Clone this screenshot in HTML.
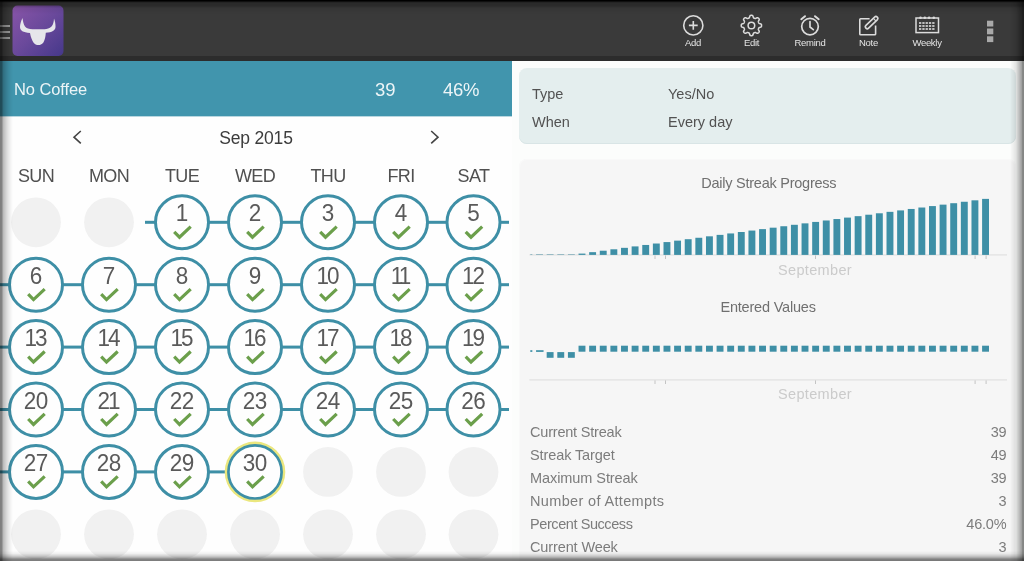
<!DOCTYPE html>
<html><head><meta charset="utf-8"><title>No Coffee</title>
<style>
html,body{margin:0;padding:0;}
body{width:1024px;height:561px;overflow:hidden;position:relative;background:#fefefe;font-family:"Liberation Sans",sans-serif;}
.abs{position:absolute;}
.topbar{left:0;top:0;width:1024px;height:56px;background:#3a3a3a;}
.topshadow{left:0;top:56px;width:1024px;height:5px;background:#2c2c2c;}
.tealbar{left:0;top:61px;width:512px;height:55px;background:#4195ad;color:#fff;}
.lbl{position:absolute;color:#e4e4e4;font-size:9.5px;text-align:center;width:60px;top:37px;line-height:12px;letter-spacing:-0.3px;}
.wd{position:absolute;top:164px;width:80px;text-align:center;font-size:18px;color:#505050;line-height:24px;letter-spacing:-0.6px;}
.num{position:absolute;width:60px;text-align:center;font-size:22.5px;color:#5a5a5a;line-height:24px;letter-spacing:-0.5px;transform:scaleY(1.06);transform-origin:50% 100%;}
.card1{left:519px;top:68px;width:497px;height:76px;background:#e4eeee;border-radius:8px;box-shadow:inset 0 -1px 0 #d9e5e6;}
.card2{left:519px;top:159px;width:497px;height:420px;background:#f6f6f6;border-radius:8px;box-shadow:inset 0 0 0 1px #f9f9f9;}
.t14{position:absolute;font-size:14.5px;color:#525252;line-height:18px;white-space:nowrap;}
.st{position:absolute;font-size:14.5px;color:#7c7c7c;line-height:18px;white-space:nowrap;letter-spacing:-0.2px;}
</style></head><body><div id="wrap" style="position:absolute;left:0;top:0;width:1024px;height:561px;overflow:hidden;will-change:transform">

<div class="abs topbar"></div><div class="abs topshadow"></div>
<div class="abs" style="left:0;top:24.5px;width:10px;height:2.5px;background:#9a9a9a"></div>
<div class="abs" style="left:0;top:30.5px;width:10px;height:2.5px;background:#9a9a9a"></div>
<div class="abs" style="left:0;top:36.5px;width:10px;height:2.5px;background:#9a9a9a"></div>
<svg class="abs" style="left:12px;top:5px" width="52" height="52" viewBox="0 0 52 52">
<defs><linearGradient id="lg" x1="0" y1="0" x2="1" y2="1"><stop offset="0" stop-color="#8955a8"/><stop offset="0.5" stop-color="#6a499b"/><stop offset="1" stop-color="#45388a"/></linearGradient></defs>
<rect x="0.5" y="0.5" width="51" height="50.5" rx="5" fill="url(#lg)"/>
<path d="M10.5 13 C9 16 8 19.5 8 22 C8 25.5 11 27.5 18 28 C18.7 32 20.1 35.6 21.8 37.9 C23.3 39.6 25 40 26.5 40 C28 40 29.8 39.5 31.4 37.4 C33 34.8 33.5 31.8 33.8 27.8 C40 27.3 43.4 25.5 43.5 22 C43.6 19 43 16 42 13.5 C41.8 17 41.2 19.5 39.5 21.5 C37.5 23.5 35 24.2 32.5 24.2 L20.5 24.2 C17 24.2 14.5 23.3 13 21.5 C11.5 19.5 11 16.5 10.5 13 Z" fill="#e6e6ea"/>
</svg>
<svg class="abs" style="left:680px;top:12px" width="28" height="28" viewBox="0 0 28 28" fill="none" stroke="#dcdcdc" stroke-width="1.6">
<circle cx="13.3" cy="13.4" r="9.6"/><path d="M13.3 9.0V17.8M8.9 13.4H17.7"/></svg>
<div class="lbl" style="left:663px">Add</div>
<svg class="abs" style="left:737px;top:11px" width="30" height="30" viewBox="0 0 30 30" fill="none" stroke="#dcdcdc" stroke-width="1.5" stroke-linejoin="round">
<path d="M14.40 4.35 L14.80 4.36 L15.19 4.42 L15.58 4.56 L15.92 4.93 L16.15 5.70 L16.33 6.47 L16.56 6.86 L16.82 7.05 L17.10 7.18 L17.38 7.29 L17.67 7.41 L17.96 7.52 L18.28 7.57 L18.72 7.45 L19.39 7.04 L20.09 6.66 L20.60 6.64 L20.97 6.81 L21.29 7.05 L21.58 7.32 L21.85 7.61 L22.09 7.93 L22.26 8.30 L22.24 8.81 L21.86 9.51 L21.45 10.18 L21.33 10.62 L21.38 10.94 L21.49 11.23 L21.61 11.52 L21.72 11.80 L21.85 12.08 L22.04 12.34 L22.43 12.57 L23.20 12.75 L23.97 12.98 L24.34 13.32 L24.48 13.71 L24.54 14.10 L24.55 14.50 L24.54 14.90 L24.48 15.29 L24.34 15.68 L23.97 16.02 L23.20 16.25 L22.43 16.43 L22.04 16.66 L21.85 16.92 L21.72 17.20 L21.61 17.48 L21.49 17.77 L21.38 18.06 L21.33 18.38 L21.45 18.82 L21.86 19.49 L22.24 20.19 L22.26 20.70 L22.09 21.07 L21.85 21.39 L21.58 21.68 L21.29 21.95 L20.97 22.19 L20.60 22.36 L20.09 22.34 L19.39 21.96 L18.72 21.55 L18.28 21.43 L17.96 21.48 L17.67 21.59 L17.38 21.71 L17.10 21.82 L16.82 21.95 L16.56 22.14 L16.33 22.53 L16.15 23.30 L15.92 24.07 L15.58 24.44 L15.19 24.58 L14.80 24.64 L14.40 24.65 L14.00 24.64 L13.61 24.58 L13.22 24.44 L12.88 24.07 L12.65 23.30 L12.47 22.53 L12.24 22.14 L11.98 21.95 L11.70 21.82 L11.42 21.71 L11.13 21.59 L10.84 21.48 L10.52 21.43 L10.08 21.55 L9.41 21.96 L8.71 22.34 L8.20 22.36 L7.83 22.19 L7.51 21.95 L7.22 21.68 L6.95 21.39 L6.71 21.07 L6.54 20.70 L6.56 20.19 L6.94 19.49 L7.35 18.82 L7.47 18.38 L7.42 18.06 L7.31 17.77 L7.19 17.48 L7.08 17.20 L6.95 16.92 L6.76 16.66 L6.37 16.43 L5.60 16.25 L4.83 16.02 L4.46 15.68 L4.32 15.29 L4.26 14.90 L4.25 14.50 L4.26 14.10 L4.32 13.71 L4.46 13.32 L4.83 12.98 L5.60 12.75 L6.37 12.57 L6.76 12.34 L6.95 12.08 L7.08 11.80 L7.19 11.52 L7.31 11.23 L7.42 10.94 L7.47 10.62 L7.35 10.18 L6.94 9.51 L6.56 8.81 L6.54 8.30 L6.71 7.93 L6.95 7.61 L7.22 7.32 L7.51 7.05 L7.83 6.81 L8.20 6.64 L8.71 6.66 L9.41 7.04 L10.08 7.45 L10.52 7.57 L10.84 7.52 L11.13 7.41 L11.42 7.29 L11.70 7.18 L11.98 7.05 L12.24 6.86 L12.47 6.47 L12.65 5.70 L12.88 4.93 L13.22 4.56 L13.61 4.42 L14.00 4.36Z"/><circle cx="14.4" cy="14.5" r="3.3"/></svg>
<div class="lbl" style="left:721.5px">Edit</div>
<svg class="abs" style="left:795px;top:11px" width="30" height="30" viewBox="0 0 30 30" fill="none" stroke="#dcdcdc" stroke-width="1.7" stroke-linecap="round">
<circle cx="15" cy="15.6" r="8.3"/><path d="M15 10.5V16L18.3 18.6"/><path d="M6.3 8.2L10.0 5.2M23.7 8.2L20.0 5.2" stroke-width="2"/></svg>
<div class="lbl" style="left:780px">Remind</div>
<svg class="abs" style="left:855px;top:11px" width="30" height="30" viewBox="0 0 30 30" fill="none" stroke="#dcdcdc" stroke-width="1.6" stroke-linejoin="round">
<path d="M14.6 7.7H5.6Q4.8 7.7 4.8 8.5V23Q4.8 23.8 5.6 23.8H19.8Q20.6 23.8 20.6 23V14.4"/><g transform="translate(16.3 11.9) rotate(-44)"><rect x="-7.5" y="-1.9" width="15.8" height="3.8" rx="1.9" fill="#3a3a3a"/><path d="M4.6 -1.75V1.75" stroke-width="1.1"/></g></svg>
<div class="lbl" style="left:838.5px">Note</div>
<svg class="abs" style="left:912px;top:12px" width="32" height="26" viewBox="0 0 32 26" fill="none" stroke="#dcdcdc" stroke-width="1.5"><rect x="4" y="6" width="22.5" height="14.6"/><circle cx="8.5" cy="5.7" r="1.3" fill="#dcdcdc" stroke="none"/><circle cx="12.8" cy="5.7" r="1.3" fill="#dcdcdc" stroke="none"/><circle cx="17.1" cy="5.7" r="1.3" fill="#dcdcdc" stroke="none"/><circle cx="21.8" cy="5.7" r="1.3" fill="#dcdcdc" stroke="none"/><rect x="7" y="10" width="2.3" height="2" fill="#bdbdbd" stroke="none"/><rect x="10.3" y="10" width="2.3" height="2" fill="#bdbdbd" stroke="none"/><rect x="13.6" y="10" width="2.3" height="2" fill="#bdbdbd" stroke="none"/><rect x="16.9" y="10" width="2.3" height="2" fill="#bdbdbd" stroke="none"/><rect x="20.2" y="10" width="2.3" height="2" fill="#bdbdbd" stroke="none"/><rect x="7" y="13" width="2.3" height="2" fill="#bdbdbd" stroke="none"/><rect x="10.3" y="13" width="2.3" height="2" fill="#bdbdbd" stroke="none"/><rect x="13.6" y="13" width="2.3" height="2" fill="#bdbdbd" stroke="none"/><rect x="16.9" y="13" width="2.3" height="2" fill="#bdbdbd" stroke="none"/><rect x="20.2" y="13" width="2.3" height="2" fill="#bdbdbd" stroke="none"/><rect x="7" y="16" width="2.3" height="2" fill="#bdbdbd" stroke="none"/><rect x="10.3" y="16" width="2.3" height="2" fill="#bdbdbd" stroke="none"/><rect x="13.6" y="16" width="2.3" height="2" fill="#bdbdbd" stroke="none"/><rect x="16.9" y="16" width="2.3" height="2" fill="#bdbdbd" stroke="none"/><rect x="20.2" y="16" width="2.3" height="2" fill="#bdbdbd" stroke="none"/></svg>
<div class="lbl" style="left:897px">Weekly</div>
<svg class="abs" style="left:980px;top:16px" width="20" height="30" viewBox="980 16 20 30"><rect x="987" y="20.7" width="6.3" height="5.8" fill="#a9a9a9"/><rect x="987" y="28.5" width="6.3" height="5.8" fill="#a9a9a9"/><rect x="987" y="36.3" width="6.3" height="5.8" fill="#a9a9a9"/></svg>
<div class="abs tealbar"></div>
<div class="abs" style="left:14px;top:78.4px;font-size:16.5px;color:rgba(255,255,255,.9);line-height:22px;letter-spacing:-0.1px">No Coffee</div>
<div class="abs" style="left:375px;top:79px;font-size:18.5px;color:rgba(255,255,255,.9);line-height:22px">39</div>
<div class="abs" style="left:443px;top:79px;font-size:18.5px;color:rgba(255,255,255,.9);line-height:22px;letter-spacing:-0.3px">46%</div>
<div class="abs" style="left:0;top:116px;width:512px;height:1px;background:#b9d7e0"></div>
<svg class="abs" style="left:70px;top:127.5px" width="16" height="18" viewBox="0 0 16 18" fill="none" stroke="#444" stroke-width="1.6"><path d="M10.8 3L4 9.2L10.8 15.4"/></svg>
<svg class="abs" style="left:426px;top:127.5px" width="16" height="18" viewBox="0 0 16 18" fill="none" stroke="#444" stroke-width="1.6"><path d="M5.2 3L12 9.2L5.2 15.4"/></svg>
<div class="abs" style="left:156px;top:125.8px;width:200px;text-align:center;font-size:17.5px;color:#3c3c3c;line-height:24px;letter-spacing:-0.2px">Sep 2015</div>
<div class="wd" style="left:-4px">SUN</div>
<div class="wd" style="left:69px">MON</div>
<div class="wd" style="left:142px">TUE</div>
<div class="wd" style="left:215px">WED</div>
<div class="wd" style="left:288px">THU</div>
<div class="wd" style="left:361px">FRI</div>
<div class="wd" style="left:433.5px">SAT</div>
<svg class="abs" style="left:0;top:0" width="512" height="561" viewBox="0 0 512 561"><circle cx="36" cy="222.3" r="24.9" fill="#f1f1f1"/><circle cx="109" cy="222.3" r="24.9" fill="#f1f1f1"/><circle cx="328" cy="471.9" r="24.9" fill="#f1f1f1"/><circle cx="401" cy="471.9" r="24.9" fill="#f1f1f1"/><circle cx="473.5" cy="471.9" r="24.9" fill="#f1f1f1"/><circle cx="36" cy="534.3" r="24.9" fill="#f1f1f1"/><circle cx="109" cy="534.3" r="24.9" fill="#f1f1f1"/><circle cx="182" cy="534.3" r="24.9" fill="#f1f1f1"/><circle cx="255" cy="534.3" r="24.9" fill="#f1f1f1"/><circle cx="328" cy="534.3" r="24.9" fill="#f1f1f1"/><circle cx="401" cy="534.3" r="24.9" fill="#f1f1f1"/><circle cx="473.5" cy="534.3" r="24.9" fill="#f1f1f1"/><rect x="145" y="220.80" width="364" height="3" fill="#3e8fa6"/><rect x="0" y="283.20" width="509" height="3" fill="#3e8fa6"/><rect x="0" y="345.60" width="509" height="3" fill="#3e8fa6"/><rect x="0" y="408.00" width="509" height="3" fill="#3e8fa6"/><rect x="0" y="470.40" width="255" height="3" fill="#3e8fa6"/><circle cx="182" cy="222.3" r="26.5" fill="#fefefe" stroke="#3e8fa6" stroke-width="3"/><path d="M174.20 231.80L179.50 237.20L190.70 226.70" fill="none" stroke="#6b9f4b" stroke-width="3.2"/><circle cx="255" cy="222.3" r="26.5" fill="#fefefe" stroke="#3e8fa6" stroke-width="3"/><path d="M247.20 231.80L252.50 237.20L263.70 226.70" fill="none" stroke="#6b9f4b" stroke-width="3.2"/><circle cx="328" cy="222.3" r="26.5" fill="#fefefe" stroke="#3e8fa6" stroke-width="3"/><path d="M320.20 231.80L325.50 237.20L336.70 226.70" fill="none" stroke="#6b9f4b" stroke-width="3.2"/><circle cx="401" cy="222.3" r="26.5" fill="#fefefe" stroke="#3e8fa6" stroke-width="3"/><path d="M393.20 231.80L398.50 237.20L409.70 226.70" fill="none" stroke="#6b9f4b" stroke-width="3.2"/><circle cx="473.5" cy="222.3" r="26.5" fill="#fefefe" stroke="#3e8fa6" stroke-width="3"/><path d="M465.70 231.80L471.00 237.20L482.20 226.70" fill="none" stroke="#6b9f4b" stroke-width="3.2"/><circle cx="36" cy="284.7" r="26.5" fill="#fefefe" stroke="#3e8fa6" stroke-width="3"/><path d="M28.20 294.20L33.50 299.60L44.70 289.10" fill="none" stroke="#6b9f4b" stroke-width="3.2"/><circle cx="109" cy="284.7" r="26.5" fill="#fefefe" stroke="#3e8fa6" stroke-width="3"/><path d="M101.20 294.20L106.50 299.60L117.70 289.10" fill="none" stroke="#6b9f4b" stroke-width="3.2"/><circle cx="182" cy="284.7" r="26.5" fill="#fefefe" stroke="#3e8fa6" stroke-width="3"/><path d="M174.20 294.20L179.50 299.60L190.70 289.10" fill="none" stroke="#6b9f4b" stroke-width="3.2"/><circle cx="255" cy="284.7" r="26.5" fill="#fefefe" stroke="#3e8fa6" stroke-width="3"/><path d="M247.20 294.20L252.50 299.60L263.70 289.10" fill="none" stroke="#6b9f4b" stroke-width="3.2"/><circle cx="328" cy="284.7" r="26.5" fill="#fefefe" stroke="#3e8fa6" stroke-width="3"/><path d="M320.20 294.20L325.50 299.60L336.70 289.10" fill="none" stroke="#6b9f4b" stroke-width="3.2"/><circle cx="401" cy="284.7" r="26.5" fill="#fefefe" stroke="#3e8fa6" stroke-width="3"/><path d="M393.20 294.20L398.50 299.60L409.70 289.10" fill="none" stroke="#6b9f4b" stroke-width="3.2"/><circle cx="473.5" cy="284.7" r="26.5" fill="#fefefe" stroke="#3e8fa6" stroke-width="3"/><path d="M465.70 294.20L471.00 299.60L482.20 289.10" fill="none" stroke="#6b9f4b" stroke-width="3.2"/><circle cx="36" cy="347.1" r="26.5" fill="#fefefe" stroke="#3e8fa6" stroke-width="3"/><path d="M28.20 356.60L33.50 362.00L44.70 351.50" fill="none" stroke="#6b9f4b" stroke-width="3.2"/><circle cx="109" cy="347.1" r="26.5" fill="#fefefe" stroke="#3e8fa6" stroke-width="3"/><path d="M101.20 356.60L106.50 362.00L117.70 351.50" fill="none" stroke="#6b9f4b" stroke-width="3.2"/><circle cx="182" cy="347.1" r="26.5" fill="#fefefe" stroke="#3e8fa6" stroke-width="3"/><path d="M174.20 356.60L179.50 362.00L190.70 351.50" fill="none" stroke="#6b9f4b" stroke-width="3.2"/><circle cx="255" cy="347.1" r="26.5" fill="#fefefe" stroke="#3e8fa6" stroke-width="3"/><path d="M247.20 356.60L252.50 362.00L263.70 351.50" fill="none" stroke="#6b9f4b" stroke-width="3.2"/><circle cx="328" cy="347.1" r="26.5" fill="#fefefe" stroke="#3e8fa6" stroke-width="3"/><path d="M320.20 356.60L325.50 362.00L336.70 351.50" fill="none" stroke="#6b9f4b" stroke-width="3.2"/><circle cx="401" cy="347.1" r="26.5" fill="#fefefe" stroke="#3e8fa6" stroke-width="3"/><path d="M393.20 356.60L398.50 362.00L409.70 351.50" fill="none" stroke="#6b9f4b" stroke-width="3.2"/><circle cx="473.5" cy="347.1" r="26.5" fill="#fefefe" stroke="#3e8fa6" stroke-width="3"/><path d="M465.70 356.60L471.00 362.00L482.20 351.50" fill="none" stroke="#6b9f4b" stroke-width="3.2"/><circle cx="36" cy="409.5" r="26.5" fill="#fefefe" stroke="#3e8fa6" stroke-width="3"/><path d="M28.20 419.00L33.50 424.40L44.70 413.90" fill="none" stroke="#6b9f4b" stroke-width="3.2"/><circle cx="109" cy="409.5" r="26.5" fill="#fefefe" stroke="#3e8fa6" stroke-width="3"/><path d="M101.20 419.00L106.50 424.40L117.70 413.90" fill="none" stroke="#6b9f4b" stroke-width="3.2"/><circle cx="182" cy="409.5" r="26.5" fill="#fefefe" stroke="#3e8fa6" stroke-width="3"/><path d="M174.20 419.00L179.50 424.40L190.70 413.90" fill="none" stroke="#6b9f4b" stroke-width="3.2"/><circle cx="255" cy="409.5" r="26.5" fill="#fefefe" stroke="#3e8fa6" stroke-width="3"/><path d="M247.20 419.00L252.50 424.40L263.70 413.90" fill="none" stroke="#6b9f4b" stroke-width="3.2"/><circle cx="328" cy="409.5" r="26.5" fill="#fefefe" stroke="#3e8fa6" stroke-width="3"/><path d="M320.20 419.00L325.50 424.40L336.70 413.90" fill="none" stroke="#6b9f4b" stroke-width="3.2"/><circle cx="401" cy="409.5" r="26.5" fill="#fefefe" stroke="#3e8fa6" stroke-width="3"/><path d="M393.20 419.00L398.50 424.40L409.70 413.90" fill="none" stroke="#6b9f4b" stroke-width="3.2"/><circle cx="473.5" cy="409.5" r="26.5" fill="#fefefe" stroke="#3e8fa6" stroke-width="3"/><path d="M465.70 419.00L471.00 424.40L482.20 413.90" fill="none" stroke="#6b9f4b" stroke-width="3.2"/><circle cx="36" cy="471.9" r="26.5" fill="#fefefe" stroke="#3e8fa6" stroke-width="3"/><path d="M28.20 481.40L33.50 486.80L44.70 476.30" fill="none" stroke="#6b9f4b" stroke-width="3.2"/><circle cx="109" cy="471.9" r="26.5" fill="#fefefe" stroke="#3e8fa6" stroke-width="3"/><path d="M101.20 481.40L106.50 486.80L117.70 476.30" fill="none" stroke="#6b9f4b" stroke-width="3.2"/><circle cx="182" cy="471.9" r="26.5" fill="#fefefe" stroke="#3e8fa6" stroke-width="3"/><path d="M174.20 481.40L179.50 486.80L190.70 476.30" fill="none" stroke="#6b9f4b" stroke-width="3.2"/><circle cx="255" cy="471.9" r="30.3" fill="#ebe77e"/><circle cx="255" cy="471.9" r="26.6" fill="#fefefe" stroke="#3e8fa6" stroke-width="2.7"/><path d="M247.20 481.40L252.50 486.80L263.70 476.30" fill="none" stroke="#6b9f4b" stroke-width="3.2"/></svg>
<div class="num" style="left:152.00px;top:202.40px;letter-spacing:0px">1</div>
<div class="num" style="left:225.00px;top:202.40px;letter-spacing:0px">2</div>
<div class="num" style="left:298.00px;top:202.40px;letter-spacing:0px">3</div>
<div class="num" style="left:371.00px;top:202.40px;letter-spacing:0px">4</div>
<div class="num" style="left:443.50px;top:202.40px;letter-spacing:0px">5</div>
<div class="num" style="left:6.00px;top:264.80px;letter-spacing:0px">6</div>
<div class="num" style="left:79.00px;top:264.80px;letter-spacing:0px">7</div>
<div class="num" style="left:152.00px;top:264.80px;letter-spacing:0px">8</div>
<div class="num" style="left:225.00px;top:264.80px;letter-spacing:0px">9</div>
<div class="num" style="left:297.00px;top:264.80px;letter-spacing:-2.0px">10</div>
<div class="num" style="left:369.50px;top:264.80px;letter-spacing:-3.0px">11</div>
<div class="num" style="left:442.50px;top:264.80px;letter-spacing:-2.0px">12</div>
<div class="num" style="left:5.00px;top:327.20px;letter-spacing:-2.0px">13</div>
<div class="num" style="left:78.00px;top:327.20px;letter-spacing:-2.0px">14</div>
<div class="num" style="left:151.00px;top:327.20px;letter-spacing:-2.0px">15</div>
<div class="num" style="left:224.00px;top:327.20px;letter-spacing:-2.0px">16</div>
<div class="num" style="left:297.00px;top:327.20px;letter-spacing:-2.0px">17</div>
<div class="num" style="left:370.00px;top:327.20px;letter-spacing:-2.0px">18</div>
<div class="num" style="left:442.50px;top:327.20px;letter-spacing:-2.0px">19</div>
<div class="num" style="left:5.80px;top:389.60px;letter-spacing:-0.4px">20</div>
<div class="num" style="left:78.00px;top:389.60px;letter-spacing:-2.0px">21</div>
<div class="num" style="left:151.80px;top:389.60px;letter-spacing:-0.4px">22</div>
<div class="num" style="left:224.80px;top:389.60px;letter-spacing:-0.4px">23</div>
<div class="num" style="left:297.80px;top:389.60px;letter-spacing:-0.4px">24</div>
<div class="num" style="left:370.80px;top:389.60px;letter-spacing:-0.4px">25</div>
<div class="num" style="left:443.30px;top:389.60px;letter-spacing:-0.4px">26</div>
<div class="num" style="left:5.80px;top:452.00px;letter-spacing:-0.4px">27</div>
<div class="num" style="left:78.80px;top:452.00px;letter-spacing:-0.4px">28</div>
<div class="num" style="left:151.80px;top:452.00px;letter-spacing:-0.4px">29</div>
<div class="num" style="left:224.80px;top:452.00px;letter-spacing:-0.4px">30</div>
<div class="abs" style="left:512px;top:61px;width:512px;height:500px;background:#fcfdfc"></div>
<div class="abs card1"></div><div class="abs card2"></div>
<div class="t14" style="left:532px;top:85px">Type</div><div class="t14" style="left:668px;top:85px">Yes/No</div>
<div class="t14" style="left:532px;top:113px">When</div><div class="t14" style="left:668px;top:113px">Every day</div>
<div class="abs" style="left:520.3px;top:173.6px;width:497px;text-align:center;font-size:14.5px;color:#707070;line-height:18px;letter-spacing:-0.25px">Daily Streak Progress</div>
<div class="abs" style="left:519.6px;top:297.7px;width:497px;text-align:center;font-size:14.5px;color:#707070;line-height:18px;letter-spacing:-0.2px">Entered Values</div>
<svg class="abs" style="left:512px;top:150px" width="512" height="270" viewBox="512 150 512 270"><rect x="529.4" y="254.4" width="477.6" height="1" fill="#dcdcdc"/><rect x="529.4" y="379.4" width="477.6" height="1" fill="#dcdcdc"/><rect x="530.30" y="254.00" width="2.04" height="0.90" fill="#8fb5c0"/><rect x="530.30" y="350.2" width="2.04" height="1.7" fill="#3e8fa6"/><rect x="536.06" y="254.00" width="6.90" height="0.90" fill="#8fb5c0"/><rect x="536.06" y="350.2" width="7.50" height="1.7" fill="#3e8fa6"/><rect x="546.68" y="254.00" width="6.90" height="0.90" fill="#8fb5c0"/><rect x="546.68" y="352.1" width="6.90" height="5.7" fill="#3e8fa6"/><rect x="557.30" y="254.00" width="6.90" height="0.90" fill="#8fb5c0"/><rect x="557.30" y="352.1" width="6.90" height="5.7" fill="#3e8fa6"/><rect x="567.92" y="254.00" width="6.90" height="0.90" fill="#8fb5c0"/><rect x="567.92" y="352.1" width="6.90" height="5.7" fill="#3e8fa6"/><rect x="578.54" y="253.60" width="6.90" height="1.30" fill="#3e8fa6"/><rect x="578.54" y="345.7" width="6.90" height="6.0" fill="#3e8fa6"/><rect x="589.16" y="252.16" width="6.90" height="2.74" fill="#3e8fa6"/><rect x="589.16" y="345.7" width="6.90" height="6.0" fill="#3e8fa6"/><rect x="599.78" y="250.72" width="6.90" height="4.18" fill="#3e8fa6"/><rect x="599.78" y="345.7" width="6.90" height="6.0" fill="#3e8fa6"/><rect x="610.40" y="249.28" width="6.90" height="5.62" fill="#3e8fa6"/><rect x="610.40" y="345.7" width="6.90" height="6.0" fill="#3e8fa6"/><rect x="621.02" y="247.84" width="6.90" height="7.06" fill="#3e8fa6"/><rect x="621.02" y="345.7" width="6.90" height="6.0" fill="#3e8fa6"/><rect x="631.64" y="246.40" width="6.90" height="8.50" fill="#3e8fa6"/><rect x="631.64" y="345.7" width="6.90" height="6.0" fill="#3e8fa6"/><rect x="642.26" y="244.96" width="6.90" height="9.94" fill="#3e8fa6"/><rect x="642.26" y="345.7" width="6.90" height="6.0" fill="#3e8fa6"/><rect x="652.88" y="243.52" width="6.90" height="11.38" fill="#3e8fa6"/><rect x="652.88" y="345.7" width="6.90" height="6.0" fill="#3e8fa6"/><rect x="663.50" y="242.08" width="6.90" height="12.82" fill="#3e8fa6"/><rect x="663.50" y="345.7" width="6.90" height="6.0" fill="#3e8fa6"/><rect x="674.12" y="240.64" width="6.90" height="14.26" fill="#3e8fa6"/><rect x="674.12" y="345.7" width="6.90" height="6.0" fill="#3e8fa6"/><rect x="684.74" y="239.20" width="6.90" height="15.70" fill="#3e8fa6"/><rect x="684.74" y="345.7" width="6.90" height="6.0" fill="#3e8fa6"/><rect x="695.36" y="237.76" width="6.90" height="17.14" fill="#3e8fa6"/><rect x="695.36" y="345.7" width="6.90" height="6.0" fill="#3e8fa6"/><rect x="705.98" y="236.32" width="6.90" height="18.58" fill="#3e8fa6"/><rect x="705.98" y="345.7" width="6.90" height="6.0" fill="#3e8fa6"/><rect x="716.60" y="234.88" width="6.90" height="20.02" fill="#3e8fa6"/><rect x="716.60" y="345.7" width="6.90" height="6.0" fill="#3e8fa6"/><rect x="727.22" y="233.44" width="6.90" height="21.46" fill="#3e8fa6"/><rect x="727.22" y="345.7" width="6.90" height="6.0" fill="#3e8fa6"/><rect x="737.84" y="232.00" width="6.90" height="22.90" fill="#3e8fa6"/><rect x="737.84" y="345.7" width="6.90" height="6.0" fill="#3e8fa6"/><rect x="748.46" y="230.56" width="6.90" height="24.34" fill="#3e8fa6"/><rect x="748.46" y="345.7" width="6.90" height="6.0" fill="#3e8fa6"/><rect x="759.08" y="229.12" width="6.90" height="25.78" fill="#3e8fa6"/><rect x="759.08" y="345.7" width="6.90" height="6.0" fill="#3e8fa6"/><rect x="769.70" y="227.68" width="6.90" height="27.22" fill="#3e8fa6"/><rect x="769.70" y="345.7" width="6.90" height="6.0" fill="#3e8fa6"/><rect x="780.32" y="226.24" width="6.90" height="28.66" fill="#3e8fa6"/><rect x="780.32" y="345.7" width="6.90" height="6.0" fill="#3e8fa6"/><rect x="790.94" y="224.80" width="6.90" height="30.10" fill="#3e8fa6"/><rect x="790.94" y="345.7" width="6.90" height="6.0" fill="#3e8fa6"/><rect x="801.56" y="223.36" width="6.90" height="31.54" fill="#3e8fa6"/><rect x="801.56" y="345.7" width="6.90" height="6.0" fill="#3e8fa6"/><rect x="812.18" y="221.92" width="6.90" height="32.98" fill="#3e8fa6"/><rect x="812.18" y="345.7" width="6.90" height="6.0" fill="#3e8fa6"/><rect x="822.80" y="220.48" width="6.90" height="34.42" fill="#3e8fa6"/><rect x="822.80" y="345.7" width="6.90" height="6.0" fill="#3e8fa6"/><rect x="833.42" y="219.04" width="6.90" height="35.86" fill="#3e8fa6"/><rect x="833.42" y="345.7" width="6.90" height="6.0" fill="#3e8fa6"/><rect x="844.04" y="217.60" width="6.90" height="37.30" fill="#3e8fa6"/><rect x="844.04" y="345.7" width="6.90" height="6.0" fill="#3e8fa6"/><rect x="854.66" y="216.16" width="6.90" height="38.74" fill="#3e8fa6"/><rect x="854.66" y="345.7" width="6.90" height="6.0" fill="#3e8fa6"/><rect x="865.28" y="214.72" width="6.90" height="40.18" fill="#3e8fa6"/><rect x="865.28" y="345.7" width="6.90" height="6.0" fill="#3e8fa6"/><rect x="875.90" y="213.28" width="6.90" height="41.62" fill="#3e8fa6"/><rect x="875.90" y="345.7" width="6.90" height="6.0" fill="#3e8fa6"/><rect x="886.52" y="211.84" width="6.90" height="43.06" fill="#3e8fa6"/><rect x="886.52" y="345.7" width="6.90" height="6.0" fill="#3e8fa6"/><rect x="897.14" y="210.40" width="6.90" height="44.50" fill="#3e8fa6"/><rect x="897.14" y="345.7" width="6.90" height="6.0" fill="#3e8fa6"/><rect x="907.76" y="208.96" width="6.90" height="45.94" fill="#3e8fa6"/><rect x="907.76" y="345.7" width="6.90" height="6.0" fill="#3e8fa6"/><rect x="918.38" y="207.52" width="6.90" height="47.38" fill="#3e8fa6"/><rect x="918.38" y="345.7" width="6.90" height="6.0" fill="#3e8fa6"/><rect x="929.00" y="206.08" width="6.90" height="48.82" fill="#3e8fa6"/><rect x="929.00" y="345.7" width="6.90" height="6.0" fill="#3e8fa6"/><rect x="939.62" y="204.64" width="6.90" height="50.26" fill="#3e8fa6"/><rect x="939.62" y="345.7" width="6.90" height="6.0" fill="#3e8fa6"/><rect x="950.24" y="203.20" width="6.90" height="51.70" fill="#3e8fa6"/><rect x="950.24" y="345.7" width="6.90" height="6.0" fill="#3e8fa6"/><rect x="960.86" y="201.76" width="6.90" height="53.14" fill="#3e8fa6"/><rect x="960.86" y="345.7" width="6.90" height="6.0" fill="#3e8fa6"/><rect x="971.48" y="200.32" width="6.90" height="54.58" fill="#3e8fa6"/><rect x="971.48" y="345.7" width="6.90" height="6.0" fill="#3e8fa6"/><rect x="982.10" y="198.88" width="6.90" height="56.02" fill="#3e8fa6"/><rect x="982.10" y="345.7" width="6.90" height="6.0" fill="#3e8fa6"/><rect x="654.5" y="255.4" width="1" height="3.6" fill="#c4c4c4"/><rect x="665" y="255.4" width="1" height="3.6" fill="#c4c4c4"/><rect x="815" y="255.4" width="1" height="3.6" fill="#c4c4c4"/><rect x="974.6" y="255.4" width="1" height="3.6" fill="#c4c4c4"/><rect x="985.6" y="255.4" width="1" height="3.6" fill="#c4c4c4"/><rect x="654.5" y="380.4" width="1" height="3.6" fill="#c4c4c4"/><rect x="665" y="380.4" width="1" height="3.6" fill="#c4c4c4"/><rect x="815" y="380.4" width="1" height="3.6" fill="#c4c4c4"/><rect x="974.6" y="380.4" width="1" height="3.6" fill="#c4c4c4"/><rect x="985.6" y="380.4" width="1" height="3.6" fill="#c4c4c4"/></svg>
<div class="abs" style="left:715px;top:261px;width:200px;text-align:center;font-size:14.5px;color:#cbcbcb;line-height:18px;letter-spacing:0.35px">September</div>
<div class="abs" style="left:715px;top:385px;width:200px;text-align:center;font-size:14.5px;color:#cbcbcb;line-height:18px;letter-spacing:0.35px">September</div>
<div class="st" style="left:530px;top:422.70px;letter-spacing:-0.2px">Current Streak</div><div class="st" style="right:17.6px;top:422.70px">39</div>
<div class="st" style="left:530px;top:445.75px;letter-spacing:-0.1px">Streak Target</div><div class="st" style="right:17.6px;top:445.75px">49</div>
<div class="st" style="left:530px;top:468.80px;letter-spacing:-0.07px">Maximum Streak</div><div class="st" style="right:17.6px;top:468.80px">39</div>
<div class="st" style="left:530px;top:491.85px;letter-spacing:0.35px">Number of Attempts</div><div class="st" style="right:17.6px;top:491.85px">3</div>
<div class="st" style="left:530px;top:514.90px;letter-spacing:-0.42px">Percent Success</div><div class="st" style="right:17.6px;top:514.90px">46.0%</div>
<div class="st" style="left:530px;top:537.95px;letter-spacing:-0.12px">Current Week</div><div class="st" style="right:17.6px;top:537.95px">3</div>
<div class="abs" style="left:0;top:0;width:1024px;height:14px;background:linear-gradient(rgba(0,0,0,1) 0,rgba(0,0,0,1) 1px,rgba(0,0,0,.42) 2px,rgba(0,0,0,.27) 3.5px,rgba(0,0,0,.25) 6px,rgba(0,0,0,.07) 8px,rgba(0,0,0,.03) 11px,rgba(0,0,0,0) 14px)"></div>
<div class="abs" style="left:0;top:0;width:13px;height:561px;background:linear-gradient(90deg,rgba(0,0,0,.5) 0,rgba(0,0,0,.48) 2px,rgba(0,0,0,.28) 3px,rgba(0,0,0,.2) 5px,rgba(0,0,0,.1) 8px,rgba(0,0,0,.03) 11px,rgba(0,0,0,0) 13px)"></div>
<div class="abs" style="left:1010px;top:0;width:14px;height:561px;background:linear-gradient(90deg,rgba(0,0,0,0) 0,rgba(0,0,0,.05) 3px,rgba(0,0,0,.1) 6px,rgba(0,0,0,.24) 9px,rgba(0,0,0,.36) 11.5px,rgba(0,0,0,.46) 12.5px,rgba(0,0,0,.48) 14px)"></div>
<div class="abs" style="left:0;top:551px;width:1024px;height:10px;background:linear-gradient(rgba(0,0,0,0) 0,rgba(0,0,0,.05) 2.5px,rgba(0,0,0,.18) 5px,rgba(0,0,0,.34) 7px,rgba(0,0,0,.47) 8px,rgba(0,0,0,.52) 10px)"></div>
</div></body></html>
